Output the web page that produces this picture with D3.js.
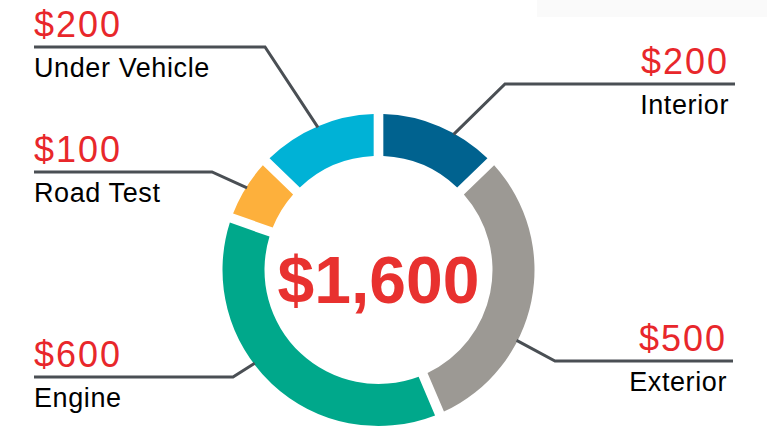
<!DOCTYPE html>
<html>
<head>
<meta charset="utf-8">
<script src="https://cdn.jsdelivr.net/npm/d3@7"></script>
<style>
  body { margin: 0; background: #fff; }
  text { font-family: "Liberation Sans", Arial, Helvetica, sans-serif; }
</style>
</head>
<body>
<div id="chart"></div>
<script>
/* Donut of inspection costs */

const categories = ["Interior", "Exterior", "Engine", "Road Test", "Under Vehicle"];
const values = [200, 500, 600, 100, 200];
const colors = ["#00628f", "#9c9994", "#00a88b", "#fdb03c", "#00b2d6"];
const totalLabel = "$1,600";

const data = categories.map((c, i) => ({ name: c, value: values[i], color: colors[i] }));

const width = 767, height = 439;
const cx = 378.5, cy = 270;
const outer = 156, inner = 114;

/* where each callout sits: anchor angle on the ring (deg), elbow, text side */
const callouts = {
    "Interior":      { angle: 29,  elbowX: 505, lineY: 84,  endX: 735, side: "right" },
    "Exterior":      { angle: 117, elbowX: 555, lineY: 361, endX: 733, side: "right" },
    "Engine":        { angle: 233, elbowX: 233, lineY: 377, endX: 34,  side: "left" },
    "Road Test":     { angle: 302, elbowX: 212, lineY: 172, endX: 34,  side: "left" },
    "Under Vehicle": { angle: 337, elbowX: 265, lineY: 47,  endX: 34,  side: "left" }
};

let svg = d3.select("#chart")
    .append("svg")
    .attr("width", width)
    .attr("height", height)
    .attr("viewBox", [0, 0, width, height]);

svg.append("rect")
    .attr("x", 537).attr("y", 0)
    .attr("width", width - 537).attr("height", 17)
    .attr("fill", "#fafafa");

const pie = d3.pie()
    .sort(null)
    .value(d => d.value)
    .padAngle(0.05);

const arc = d3.arc()
    .innerRadius(inner)
    .outerRadius(outer);

const g = svg.append("g")
    .attr("transform", `translate(${cx},${cy})`);

// leader lines go under the ring
const lines = svg.append("g");
const labels = svg.append("g");

g.selectAll("path")
    .data(pie(data))
    .join("path")
    .attr("fill", d => d.data.color)
    .attr("d", arc);

for (let d of data) {
    const c = callouts[d.name];
    const p = d3.pointRadial(c.angle * Math.PI / 180, outer - 1);
    lines.append("polyline")
        .attr("points", [[cx + p[0], cy + p[1]], [c.elbowX, c.lineY], [c.endX, c.lineY]].map(q => q.join(",")).join(" "))
        .attr("fill", "none")
        .attr("stroke", "#4a4f54")
        .attr("stroke-width", 3);

    const tx = c.side === "left" ? c.endX : c.endX - 6;
    const anchor = c.side === "left" ? "start" : "end";

    labels.append("text")
        .attr("x", tx)
        .attr("y", c.lineY - 10)
        .attr("text-anchor", anchor)
        .attr("font-size", 36)
        .attr("letter-spacing", 2)
        .attr("fill", "#e8272b")
        .text("$" + d3.format(",")(d.value));

    labels.append("text")
        .attr("x", tx)
        .attr("y", c.lineY + 30)
        .attr("text-anchor", anchor)
        .attr("font-size", 27)
        .attr("letter-spacing", 0.6)
        .attr("fill", "#000")
        .text(d.name);
}

svg.append("text")
    .attr("x", cx)
    .attr("y", 303)
    .attr("text-anchor", "middle")
    .attr("font-size", 66)
    .attr("font-weight", "bold")
    .attr("fill", "#e8312f")
    .text(totalLabel);
</script>
</body>
</html>
